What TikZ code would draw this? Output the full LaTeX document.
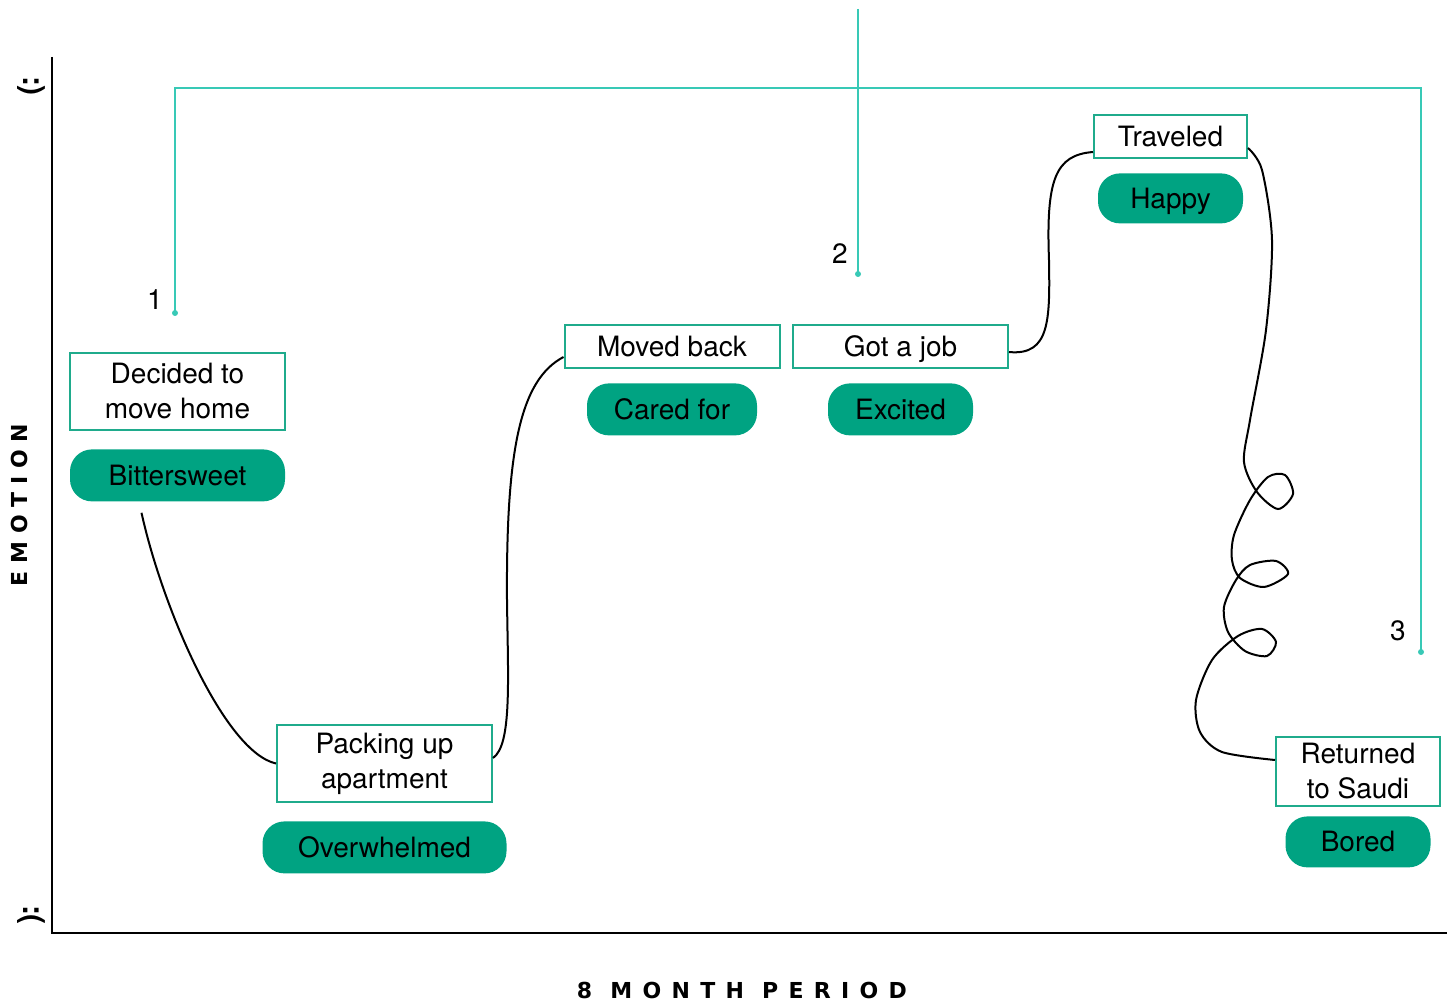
\documentclass[tikz,border=0pt]{standalone}
\usepackage{fontspec}
\setmainfont{TeX Gyre Heros}
\newfontfamily\axisfamily[LetterSpace=47]{DejaVu Sans}
\newfontfamily\emofamily[LetterSpace=35]{DejaVu Sans}
\usetikzlibrary{positioning,calc}
\definecolor{boxteal}{HTML}{1FAB8C}
\definecolor{pillteal}{HTML}{00A382}
\definecolor{guideteal}{HTML}{38C9B6}
\newcommand{\axisfont}{\fontsize{11pt}{13pt}\selectfont\axisfamily\bfseries}
\newcommand{\emofont}{\fontsize{11pt}{13pt}\selectfont\emofamily\bfseries}
\newcommand{\cardfont}{\fontsize{14pt}{17.5pt}\selectfont}

\begin{document}
\begin{tikzpicture}
          [ x=0.5pt, y=-0.5pt,
            event/.style={
              rectangle,
              draw=boxteal,
              line width=1pt,
              fill=white,
              align=center,
              minimum width=107.5pt,
              inner sep=1pt,
              font=\cardfont},
            oneline/.style={text height=10pt, text depth=0pt},
            feeling/.style={
              rectangle,
              fill=pillteal,
              rounded corners=11pt,
              minimum height=26pt,
              inner sep=1pt,
              oneline,
              font=\cardfont},
            swing/.style={
              draw,
              black,
              line width=1pt,
            },
            guide/.style={
              draw=guideteal,
              line width=0.75pt,
            },
            tag/.style={inner sep=0pt, font=\cardfont},
            face/.style={rotate=-90, inner sep=0pt,
              font=\fontsize{15pt}{15pt}\selectfont\bfseries},
          ]

          \useasboundingbox (0,0) rectangle (1453,1005);

          % axes
          \coordinate (origin) at (52,933);
          \coordinate (ytop) at (52,57);
          \coordinate (xend) at (1447,933);
          \draw[line width=0.75pt] (ytop) -- (origin) -- (xend);
          \node[face] (smile) at (31,86) {:)};
          \node[face] (frown) at (31,915) {:(};
          \node[rotate=90, font=\emofont] (emotion) at (19,505) {EMOTION};
          \node[font=\axisfont] (period) at (742,990) {8 MONTH PERIOD};

          % events and feelings
          \node (decided) [event, minimum height=38.5pt] at (177.5,391.5) {Decided to\\move home};
          \node (bitter) [feeling, below=9pt of decided, minimum width=107.5pt] {Bittersweet};

          \node (packing) [event, minimum height=38.5pt] at (384.5,763.5) {Packing up\\apartment};
          \node (overwhelm) [feeling, below=9pt of packing, minimum width=122pt] {Overwhelmed};

          \node (moved) [event, oneline, minimum height=21.5pt] at (672,346.5) {Moved back};
          \node (cared) [feeling, below=7pt of moved, minimum width=85pt] {Cared for};

          \node (job) [event, oneline, minimum height=21.5pt] at (900.5,346.5) {Got a job};
          \node (excited) [feeling, below=7pt of job, minimum width=72.5pt] {Excited};

          \node (travel) [event, oneline, minimum width=76.5pt, minimum height=21.5pt] at (1170.5,136.5) {Traveled};
          \node (happy) [feeling, below=7pt of travel, minimum width=72.5pt, minimum height=25pt] {Happy};

          \node (returned) [event, minimum width=82pt, minimum height=34.5pt] at (1358,771.5) {Returned\\to Saudi};
          \node (bored) [feeling, below=4.5pt of returned, minimum width=72.5pt, minimum height=25.5pt] {Bored};

          % guides
          \coordinate (g1) at (175,313);
          \coordinate (g2) at (858,274);
          \coordinate (g2top) at (858,9);
          \coordinate (g3) at (1421,652);
          \coordinate (bar) at (800,88);
          \draw[guide] (g1) |- (bar) -| (g3);
          \draw[guide] (g2top) -- (g2);
          \fill[guideteal] (g1) circle (1.5pt) (g2) circle (1.5pt) (g3) circle (1.5pt);
          \node[tag] (one) at (155,300) {1};
          \node[tag] (two) at (840,254) {2};
          \node[tag] (three) at (1398,631) {3};

          % mood swings
          \draw[swing] ($(bitter.south)+(-36,11)$) .. controls (163,610) and (225,752) .. (packing.west);
          \draw[swing] ([yshift=2.75pt]packing.east) .. controls (512,745) and (508,680) .. (507,600)
            .. controls (506,450) and (520,380) .. ([yshift=-5.25pt]moved.west);
          \draw[swing] ([yshift=-2.75pt]job.east) .. controls (1050,356) and (1050,320) .. (1049,260)
            .. controls (1046,180) and (1055,155) .. ([yshift=-7.75pt]travel.west);
          \coordinate (tout) at ([yshift=-5.75pt]travel.east);
          \coordinate (rin) at ([yshift=5.75pt]returned.west);
          \draw[swing] plot[smooth] coordinates {(tout) (1262,170) (1272,240) (1266,330) (1250,420)
            (1244,462) (1257,492) (1278,509) (1293,494) (1285,475) (1268,477) (1250,500) (1234,535)
            (1232,560) (1240,578) (1264,587) (1288,574) (1276,561) (1250,565) (1236,580) (1224,607)
            (1228,632) (1245,651) (1267,656) (1276,642) (1262,629) (1238,636) (1212,660) (1196,700)
            (1200,732) (1222,752) (rin)};

        \end{tikzpicture}
\end{document}
